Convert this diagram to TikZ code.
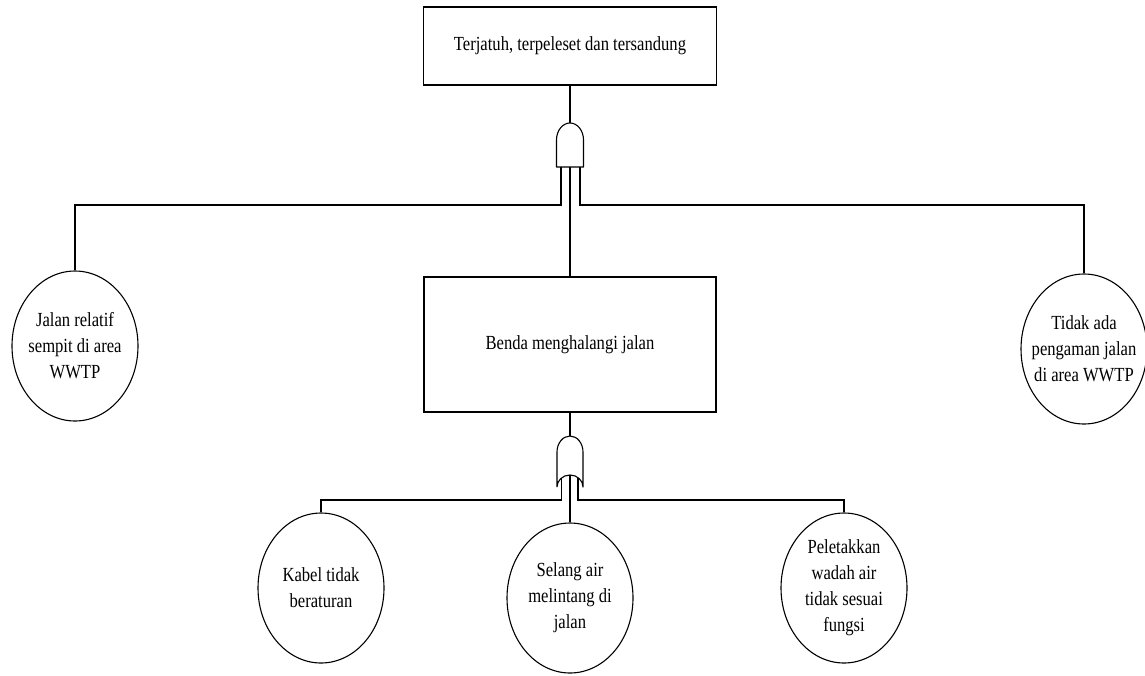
\documentclass[tikz,border=0pt]{standalone}
\usepackage{fontspec}
\setmainfont{Liberation Serif}[FakeStretch=0.83]
\usetikzlibrary{shapes.geometric}
\begin{document}
\begin{tikzpicture}[x=1pt,y=-1pt,line width=1.1pt,
  txt/.style={font=\fontsize{20}{26}\selectfont,align=center},
  eventbox/.style={draw,rectangle,txt,inner sep=0pt},
  basic/.style={draw,ellipse,inner sep=0pt,minimum width=126pt,minimum height=150pt},
  gate/.style={draw,line width=1.1pt,line join=round}]
\useasboundingbox (0,0) rectangle (1145,675);

% events
\node[eventbox,minimum width=293pt,minimum height=78pt] (top) at (570,46) {Terjatuh, terpeleset dan tersandung};
\node[eventbox,minimum width=292pt,minimum height=135pt] (mid) at (570,344.5) {Benda menghalangi jalan};

% basic events
\node[basic,label={[txt]center:Jalan relatif\\sempit di area\\WWTP}] (left) at (75,346) {};
\node[basic,label={[txt]center:Tidak ada\\pengaman jalan\\di area WWTP}] (right) at (1084,349) {};
\node[basic,label={[txt]center:Kabel tidak\\beraturan}] (kabel) at (321,588) {};
\node[basic,label={[txt]center:Selang air\\melintang di\\jalan}] (selang) at (570,598) {};
\node[basic,label={[txt]center:Peletakkan\\wadah air\\tidak sesuai\\fungsi}] (pelet) at (844,588) {};

% AND gate
\draw[gate] (556.5,167) -- (556.5,140) arc[start angle=180,end angle=360,x radius=13.5,y radius=17] -- (583.5,167) -- cycle;
\coordinate (g1top) at (570,123);
\coordinate (g1L) at (561,167);
\coordinate (g1C) at (570,167);
\coordinate (g1R) at (580,167);

% OR gate
\draw[gate] (557,487) -- (557,452) arc[start angle=180,end angle=360,x radius=13,y radius=16] -- (583,487)
  arc[start angle=0,end angle=-180,x radius=13,y radius=12];
\coordinate (g2top) at (570,436);
\coordinate (g2L) at (561.5,478);
\coordinate (g2C) at (570,475);
\coordinate (g2R) at (578,477.5);

% connectors
\draw (top.south) -- (g1top);
\draw (g1L) -- ++(0,38) -| (left.north);
\draw (g1R) -- ++(0,38) -| (right.north);
\draw (g1C) -- (mid.north);
\draw (mid.south) -- (g2top);
\draw (g2L) -- (561.5,500) -| (kabel.north);
\draw (g2R) -- (578,500) -| (pelet.north);
\draw (g2C) -- (selang.north);
\end{tikzpicture}
\end{document}
